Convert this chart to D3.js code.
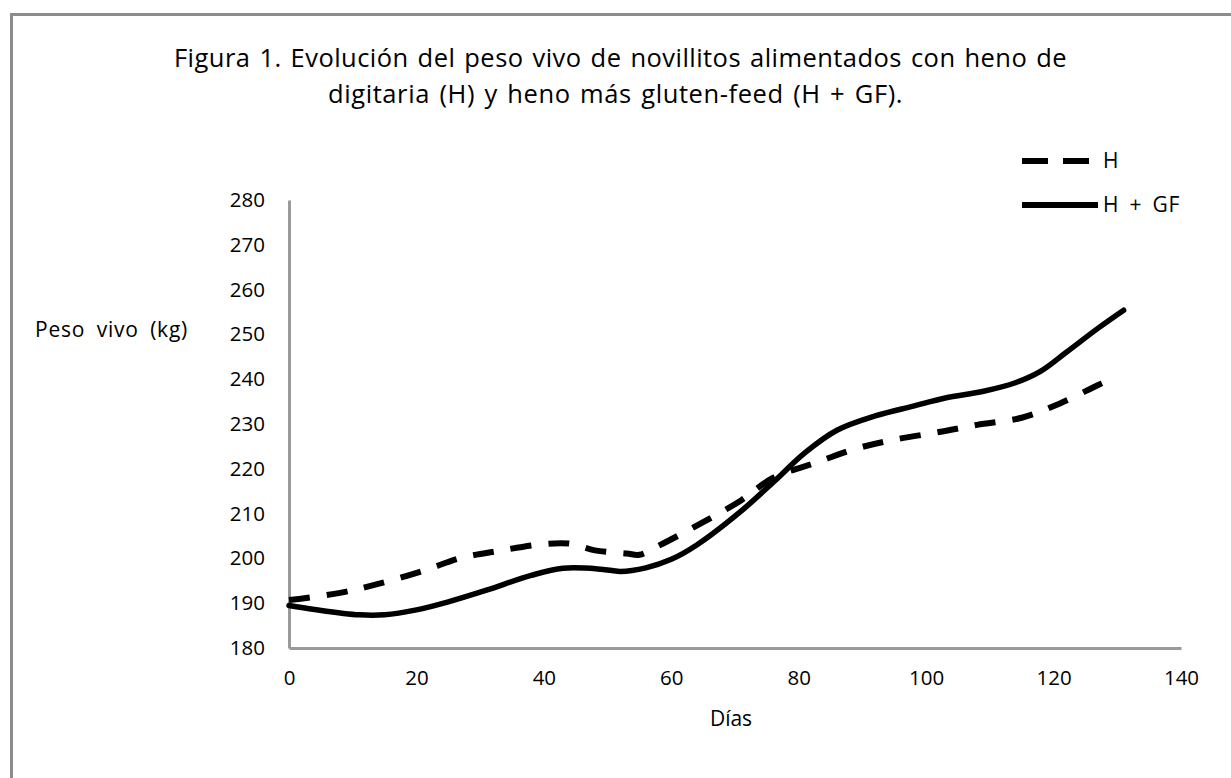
<!DOCTYPE html>
<html><head><meta charset="utf-8">
<script src="https://cdn.jsdelivr.net/npm/d3@7"></script>
<style>body{margin:0;background:#fff}svg{display:block}text{font-family:"Open Sans",sans-serif;fill:#000}</style>
</head><body>
<script>
const titleLines = ["Figura 1. Evolución del peso vivo de novillitos alimentados con heno de",
                    "digitaria (H) y heno más gluten-feed (H + GF)."];
const xLabel = "Días";
const yLabel = "Peso vivo (kg)";
const xTicks = [0,20,40,60,80,100,120,140];
const yTicks = [180,190,200,210,220,230,240,250,260,270,280];
const seriesNames = ["H","H + GF"];
const daysH  = [0,8,14,21,27,33,40,44,48,53,55,58,65,71,76,83,89,95,102,108,115,121,127,129];
const pesoH  = [190.7,192.3,194.3,197.2,200.1,201.7,203.2,203.3,201.8,201.1,200.8,202.8,208.1,213,218,221.5,224.5,226.5,228.2,229.8,231.4,234.6,238.7,240];
const daysGF = [0,4,11,15,20,25,31,38,43,49,52,56,60,64,71,76,81,86,92,98,103,109,114,118,122,127,131];
const pesoGF = [189.5,188.6,187.4,187.4,188.5,190.3,192.9,196.2,197.8,197.6,197.1,197.9,199.8,203,210.6,217,223.6,228.6,231.8,234,235.8,237.3,239.2,241.8,246,251.4,255.4];

const W = 1231, H = 778;
const svg = d3.select("body").append("svg").attr("width", W).attr("height", H);

// fit text to a target width: part letter spacing, part word spacing
function fitText(sel, target, frac) {
  const node = sel.node();
  const natural = node.getComputedTextLength();
  const txt = sel.text();
  const spaces = (txt.match(/ /g) || []).length;
  const extra = target - natural;
  const f = spaces > 0 ? frac : 1;
  sel.attr("letter-spacing", (extra * f / txt.length).toFixed(2));
  if (spaces > 0) sel.attr("word-spacing", (extra * (1 - f) / spaces).toFixed(2));
  return sel;
}

// frame
svg.append("path").attr("d", `M11.5,${H} L11.5,14.5 L${W},14.5`)
  .attr("fill","none").attr("stroke","#8c8c8c").attr("stroke-width",3);

// title
fitText(svg.append("text").attr("x",174).attr("y",67).attr("font-size",25.5).text(titleLines[0]), 893, 0.6);
fitText(svg.append("text").attr("x",328).attr("y",103).attr("font-size",25.5).text(titleLines[1]), 575, 0.6);

const x = d3.scaleLinear().domain([0,140]).range([289,1181]);
const y = d3.scaleLinear().domain([180,280]).range([648,200]);

// axes
const yAxis = d3.axisLeft(y).tickValues(yTicks).tickSize(0).tickPadding(24);
const gy = svg.append("g").attr("transform",`translate(${x(0)},0)`).call(yAxis);
gy.select(".domain").attr("stroke","#9a9a9a").attr("stroke-width",3);
gy.selectAll("text").attr("font-size",20.5).attr("font-family","Open Sans, sans-serif").attr("fill","#000");

const xAxis = d3.axisBottom(x).tickValues(xTicks).tickSize(0).tickPadding(22);
const gx = svg.append("g").attr("transform",`translate(0,${y(180)})`).call(xAxis);
gx.select(".domain").attr("stroke","#9a9a9a").attr("stroke-width",3);
gx.selectAll("text").attr("font-size",20.5).attr("font-family","Open Sans, sans-serif").attr("fill","#000");

fitText(svg.append("text").attr("x",35).attr("y",337).attr("font-size",21).text(yLabel), 153, 0.5);
svg.append("text").attr("x",731).attr("y",726).attr("text-anchor","middle").attr("font-size",21).text(xLabel);

const line = d3.line().x(d=>x(d[0])).y(d=>y(d[1])).curve(d3.curveCatmullRom.alpha(0.5));
const dataH = daysH.map((d,i)=>[d,pesoH[i]]);
const dataGF = daysGF.map((d,i)=>[d,pesoGF[i]]);

svg.append("path").datum(dataGF).attr("d",line).attr("fill","none").attr("stroke","#000")
  .attr("stroke-width",5.5).attr("stroke-linejoin","round").attr("stroke-linecap","round");
svg.append("path").datum(dataH).attr("d",line).attr("fill","none").attr("stroke","#000")
  .attr("stroke-width",6).attr("stroke-dasharray","21,17").attr("stroke-linejoin","round");

// legend
const lg = svg.append("g");
lg.append("line").attr("x1",1022).attr("x2",1090).attr("y1",161).attr("y2",161)
  .attr("stroke","#000").attr("stroke-width",6).attr("stroke-dasharray","26,15");
lg.append("text").attr("x",1103).attr("y",168).attr("font-size",21).text(seriesNames[0]);
lg.append("line").attr("x1",1022).attr("x2",1098).attr("y1",205).attr("y2",205)
  .attr("stroke","#000").attr("stroke-width",6);
fitText(lg.append("text").attr("x",1103).attr("y",212).attr("font-size",21).text(seriesNames[1]), 77, 0.3);
</script>
</body></html>
